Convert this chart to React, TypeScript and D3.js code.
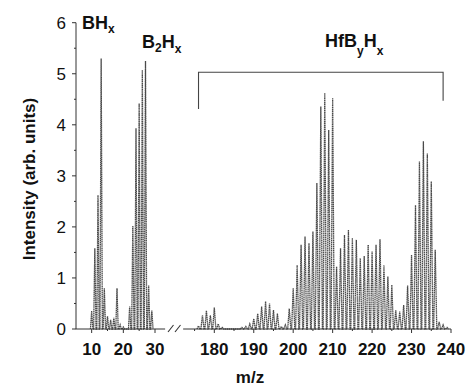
import React from "react";
import * as d3 from "d3";

// ---- data ----
const leftMz = [10, 11, 12, 13, 14, 15, 16, 17, 18, 19, 20, 22, 23, 24, 25, 26, 27, 28, 29];
const leftInt = [0.35, 1.58, 2.62, 5.3, 0.8, 0.25, 0.18, 0.22, 0.8, 0.08, 0.04, 0.44, 2.02, 3.93, 4.42, 5.07, 5.25, 0.85, 0.36];

const rightMz = [176, 177, 178, 179, 180, 181, 182, 187, 188, 189, 190, 191, 192, 193, 194, 195, 196, 197, 198,
  199, 200, 201, 202, 203, 204, 205, 206, 207, 208, 209, 210, 211, 212, 213, 214, 215, 216, 217, 218, 219, 220,
  221, 222, 223, 224, 225, 226, 227, 228, 229, 230, 231, 232, 233, 234, 235, 236, 237, 238, 239];
const rightInt = [0.06, 0.27, 0.36, 0.27, 0.42, 0.1, 0.03, 0.03, 0.05, 0.1, 0.2, 0.3, 0.44, 0.54, 0.5, 0.37, 0.3, 0.05, 0.08,
  0.4, 0.8, 1.25, 1.65, 1.81, 1.68, 1.91, 2.86, 4.36, 4.62, 3.9, 4.52, 1.22, 1.58, 1.84, 1.94, 1.78, 1.75, 1.39, 1.43, 1.65, 1.52,
  1.65, 1.76, 1.25, 1.03, 0.86, 0.37, 0.34, 0.47, 0.85, 1.45, 2.43, 3.28, 3.68, 3.44, 2.89, 1.55, 0.14, 0.08, 0.03];

const yTicks = [0, 1, 2, 3, 4, 5, 6];
const leftTicks = [10, 20, 30];
const rightTicks = [180, 190, 200, 210, 220, 230, 240];

// bracket for HfByHx group (data units)
const bracketX = [176, 238];
const bracketY = [4.31, 5.03, 4.47];

export default function App() {
  const W = 471, H = 387;
  const y = d3.scaleLinear().domain([0, 6]).range([329, 22.7]);
  const xL = d3.scaleLinear().domain([0, 30]).range([60, 155]);
  const xR = d3.scaleLinear().domain([180, 240]).range([214.3, 451]);
  const leftDomain = [5, 33.2];
  const rightDomain = [172.1, 240];
  const y0 = y(0);
  const axisColor = "#333";
  const traceColor = "#4a4a4a";

  const spikePath = (xs: number[], vs: number[], sc: d3.ScaleLinear<number, number>, hw: number) => {
    const pts: [number, number][] = [];
    xs.forEach((m, i) => {
      pts.push([sc(m - hw), y0]);
      pts.push([sc(m), y(vs[i])]);
      pts.push([sc(m + hw), y0]);
    });
    return d3.line()(pts) || "";
  };

  const minorY = d3.range(0.5, 6, 1);
  const minorL = [15, 25];
  const minorR = d3.range(175, 240, 10);

  const font = "'Liberation Sans', Arial, sans-serif";

  return (
    <svg width={W} height={H} style={{ position: "absolute", left: 0, top: 0, background: "#fff" }} fontFamily={font}>
      {/* spectrum */}
      <path d={spikePath(leftMz, leftInt, xL, 0.38)} fill="none" stroke={traceColor} strokeWidth={1.3} strokeDasharray="1.4 0.5" />
      <path d={spikePath(rightMz, rightInt, xR, 0.4)} fill="none" stroke={traceColor} strokeWidth={1.3} strokeDasharray="1.4 0.5" />

      {/* y axis */}
      <line x1={76} x2={76} y1={y(0)} y2={y(6)} stroke={axisColor} />
      {yTicks.map((t) => (
        <g key={"y" + t}>
          <line x1={72} x2={76} y1={y(t)} y2={y(t)} stroke={axisColor} />
          <text x={66} y={y(t) + 6} textAnchor="end" fontSize={17} fill="#111">{t}</text>
        </g>
      ))}
      {minorY.map((t) => (
        <line key={"ym" + t} x1={74} x2={76} y1={y(t)} y2={y(t)} stroke={axisColor} />
      ))}

      {/* x axis left */}
      <line x1={xL(leftDomain[0])} x2={xL(leftDomain[1])} y1={y0} y2={y0} stroke={axisColor} />
      {leftTicks.map((t) => (
        <g key={"l" + t}>
          <line x1={xL(t)} x2={xL(t)} y1={y0} y2={y0 + 4} stroke={axisColor} />
          <text x={xL(t)} y={355} textAnchor="middle" fontSize={17} fontWeight="bold" fill="#111">{t}</text>
        </g>
      ))}
      {minorL.map((t) => (
        <line key={"lm" + t} x1={xL(t)} x2={xL(t)} y1={y0} y2={y0 + 2} stroke={axisColor} />
      ))}

      {/* break marks */}
      <line x1={168} y1={332} x2={173.5} y2={325} stroke={axisColor} strokeWidth={1.1} />
      <line x1={175} y1={332} x2={180.5} y2={325} stroke={axisColor} strokeWidth={1.1} />

      {/* x axis right */}
      <line x1={xR(rightDomain[0])} x2={xR(rightDomain[1])} y1={y0} y2={y0} stroke={axisColor} />
      {rightTicks.map((t) => (
        <g key={"r" + t}>
          <line x1={xR(t)} x2={xR(t)} y1={y0} y2={y0 + 4} stroke={axisColor} />
          <text x={xR(t)} y={355} textAnchor="middle" fontSize={17} fontWeight="bold" fill="#111">{t}</text>
        </g>
      ))}
      {minorR.map((t) => (
        <line key={"rm" + t} x1={xR(t)} x2={xR(t)} y1={y0} y2={y0 + 2} stroke={axisColor} />
      ))}

      {/* axis titles */}
      <text x={250} y={383} textAnchor="middle" fontSize={17} fontWeight="bold" fill="#111">m/z</text>
      <text transform={`translate(35,179) rotate(-90)`} textAnchor="middle" fontSize={17} fontWeight="bold" fill="#111">
        Intensity (arb. units)
      </text>

      {/* bracket */}
      <path
        d={d3.line()([
          [xR(bracketX[0]), y(bracketY[0])],
          [xR(bracketX[0]), y(bracketY[1])],
          [xR(bracketX[1]), y(bracketY[1])],
          [xR(bracketX[1]), y(bracketY[2])],
        ]) || ""}
        fill="none"
        stroke="#444"
        strokeWidth={1.1}
      />

      {/* group labels */}
      <text x={82} y={29} fontSize={18} fontWeight="bold" fill="#111">
        BH<tspan fontSize={12} dy={4}>x</tspan>
      </text>
      <text x={142} y={48} fontSize={18} fontWeight="bold" fill="#111">
        B<tspan fontSize={12} dy={4}>2</tspan><tspan dy={-4}>H</tspan><tspan fontSize={12} dy={5}>x</tspan>
      </text>
      <text x={325} y={47} fontSize={18} fontWeight="bold" fill="#111">
        HfB<tspan fontSize={12} dy={8}>y</tspan><tspan dy={-8}>H</tspan><tspan fontSize={12} dy={8}>x</tspan>
      </text>
    </svg>
  );
}
